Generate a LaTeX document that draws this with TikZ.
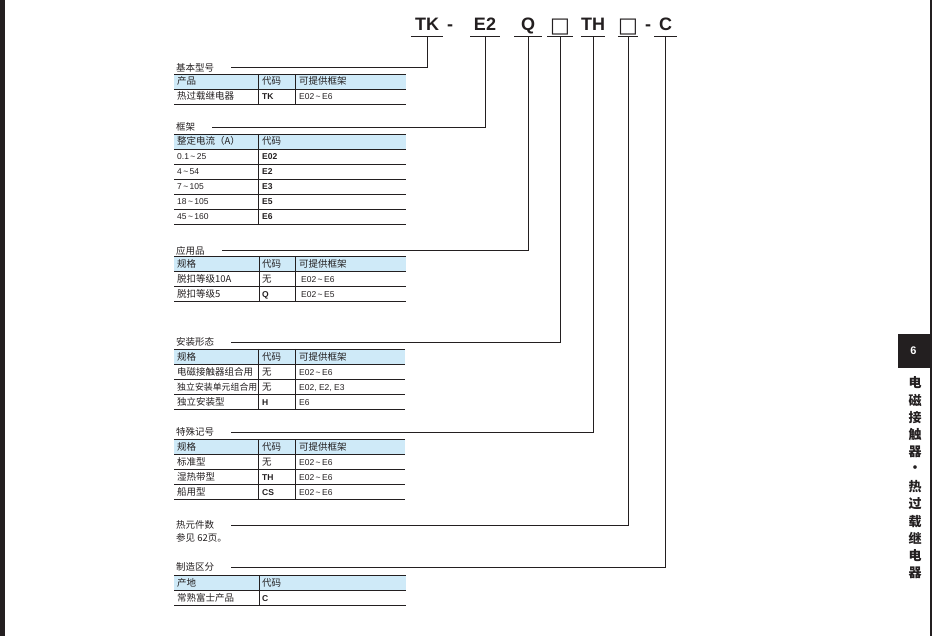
\documentclass[tikz,border=0pt]{standalone}
\usepackage{fontspec}
\setmainfont{Liberation Sans}
\newfontfamily\cjk{Noto Sans CJK SC}
\newfontfamily\symf{DejaVu Sans}
\usetikzlibrary{positioning}
\definecolor{hdrblue}{RGB}{207,234,248}
\definecolor{ink}{RGB}{35,31,32}
\newcommand{\rng}[2]{#1\,\textasciitilde\,#2}

\begin{document}
\begin{tikzpicture}[x=1pt,y=-1pt,
  rule/.style={draw=ink,line width=0.8pt},
  lead/.style={draw=ink,line width=0.9pt},
  part/.style={anchor=south,inner xsep=0pt,inner ysep=5.5pt,text height=13pt,text depth=0pt,font=\bfseries\fontsize{18}{20}\selectfont,text=ink},
  blank/.style={part,font=\symf\fontsize{21}{22}\selectfont},
  sec/.style={anchor=west,inner sep=0pt,font=\cjk\fontsize{9.5}{11}\selectfont,text=ink},
  zh/.style={anchor=base west,inner sep=0pt,font=\cjk\fontsize{9.5}{11}\selectfont,text=ink},
  lat/.style={anchor=base west,inner sep=0pt,font=\fontsize{8.5}{10}\selectfont,text=ink},
  latb/.style={lat,font=\bfseries\fontsize{8.5}{10}\selectfont},
  side/.style={font=\cjk\bfseries\fontsize{13}{14}\selectfont,text=ink}]
  \useasboundingbox (0,0) rectangle (932,636);
  \fill[ink] (0,0) rectangle (5,636);
  \fill[ink] (930,0) rectangle (932,636);

  % model code
  \node[part,minimum width=32pt]  (tk)  at (427,36.5) {TK};
  \node[part]                     (d1)  at (450,36.5) {-};
  \node[part,minimum width=29pt]  (e2)  at (485,36.5) {E2};
  \node[part,minimum width=27pt]  (q)   at (528,36.5) {Q};
  \node[blank,minimum width=25pt] (bx1) at (560,36.5) {\raisebox{-1.5pt}{□}};
  \node[part,minimum width=23pt]  (th)  at (593,36.5) {TH};
  \node[blank,minimum width=20pt] (bx2) at (628,36.5) {\raisebox{-1.5pt}{□}};
  \node[part]                     (d2)  at (648,36.5) {-};
  \node[part,minimum width=22pt]  (c)   at (665.5,36.5) {C};
  \foreach \p in {tk,e2,q,bx1,th,bx2,c}
    \draw[lead,line width=1.2pt] (\p.south west) -- (\p.south east);

  % section names
  \node[sec] (s1) at (176,67.5)  {基本型号};
  \node[sec] (s2) at (176,127.3) {框架};
  \node[sec] (s3) at (176,250.7) {应用品};
  \node[sec] (s4) at (176,342.3) {安装形态};
  \node[sec] (s5) at (176,432.3) {特殊记号};
  \node[sec] (s6) at (176,525)   {热元件数};
  \node[sec,below=13pt of s6.west,anchor=west] (s6n) {参见 62页。};
  \node[sec] (s7) at (176,567.3) {制造区分};
  \foreach \p/\s in {tk/s1,e2/s2,q/s3,bx1/s4,th/s5,bx2/s6,c/s7}
    \draw[lead] (\p.south) |- ([xshift=17pt]\s.east);

  % basic type
  \fill[hdrblue] (174,74) rectangle (406,89);
  \foreach \r in {74,89,104} \draw[rule] (174,\r) -- (406,\r);
  \draw[rule] (258,74) -- (258,104) (295,74) -- (295,104);
  \node[zh]   (a1) at (177,85)  {产品};
  \node[zh]   (a2) at (262,85)  {代码};
  \node[zh]   (a3) at (299,85)  {可提供框架};
  \node[zh]   (a4) at (177,100) {热过载继电器};
  \node[latb] (a5) at (262,100) {TK};
  \node[lat]  (a6) at (299,100) {\rng{E02}{E6}};

  % frame
  \fill[hdrblue] (174,134) rectangle (406,149);
  \foreach \r in {134,149,...,224} \draw[rule] (174,\r) -- (406,\r);
  \draw[rule] (258,134) -- (258,224);
  \node[zh] (b1) at (177,145) {整定电流（A）};
  \node[zh] (b2) at (262,145) {代码};
  \foreach \lo/\hi/\cd [count=\i] in {0.1/25/E02,4/54/E2,7/105/E3,18/105/E5,45/160/E6} {
    \node[lat]  (bl\i) at (177,145+15*\i) {\rng{\lo}{\hi}};
    \node[latb] (bc\i) at (262,145+15*\i) {\cd};
  }

  % application
  \fill[hdrblue] (174,256.7) rectangle (406,271.7);
  \foreach \r in {256.7,271.7,286.7,301.7} \draw[rule] (174,\r) -- (406,\r);
  \draw[rule] (259,256.7) -- (259,301.7) (295,256.7) -- (295,301.7);
  \node[zh]   (c1) at (177,267.7) {规格};
  \node[zh]   (c2) at (262,267.7) {代码};
  \node[zh]   (c3) at (299,267.7) {可提供框架};
  \node[zh]   (c4) at (177,282.7) {脱扣等级10A};
  \node[zh]   (c5) at (262,282.7) {无};
  \node[lat]  (c6) at (301,282.7) {\rng{E02}{E6}};
  \node[zh]   (c7) at (177,297.7) {脱扣等级5};
  \node[latb] (c8) at (262,297.7) {Q};
  \node[lat]  (c9) at (301,297.7) {\rng{E02}{E5}};

  % mounting
  \fill[hdrblue] (174,349) rectangle (405,364);
  \foreach \r in {349,364,...,409} \draw[rule] (174,\r) -- (405,\r);
  \draw[rule] (258.7,349) -- (258.7,409) (295,349) -- (295,409);
  \node[zh]   (d1h) at (177,360) {规格};
  \node[zh]   (d2h) at (262,360) {代码};
  \node[zh]   (d3h) at (299,360) {可提供框架};
  \node[zh]   (m1a) at (177,375) {电磁接触器组合用};
  \node[zh]   (m1b) at (262,375) {无};
  \node[lat]  (m1c) at (299,375) {\rng{E02}{E6}};
  \node[zh,font=\cjk\fontsize{8.9}{11}\selectfont] (m2a) at (177,390) {独立安装单元组合用};
  \node[zh]   (m2b) at (262,390) {无};
  \node[lat]  (m2c) at (299,390) {E02, E2, E3};
  \node[zh]   (m3a) at (177,405) {独立安装型};
  \node[latb] (m3b) at (262,405) {H};
  \node[lat]  (m3c) at (299,405) {E6};

  % special mark
  \fill[hdrblue] (174,439) rectangle (405,454);
  \foreach \r in {439,454,...,499} \draw[rule] (174,\r) -- (405,\r);
  \draw[rule] (258.7,439) -- (258.7,499) (295,439) -- (295,499);
  \node[zh] (e1h) at (177,450) {规格};
  \node[zh] (e2h) at (262,450) {代码};
  \node[zh] (e3h) at (299,450) {可提供框架};
  \node[zh]  (x1a) at (177,465) {标准型};
  \node[zh]  (x1b) at (262,465) {无};
  \node[lat] (x1c) at (299,465) {\rng{E02}{E6}};
  \foreach \nm/\cd [count=\i from 2] in {湿热带型/TH,船用型/CS} {
    \node[zh]   (x\i a) at (177,450+15*\i) {\nm};
    \node[latb] (x\i b) at (262,450+15*\i) {\cd};
    \node[lat]  (x\i c) at (299,450+15*\i) {\rng{E02}{E6}};
  }

  % production
  \fill[hdrblue] (174,575) rectangle (406,590);
  \foreach \r in {575,590,605} \draw[rule] (174,\r) -- (406,\r);
  \draw[rule] (259,575) -- (259,605);
  \node[zh]   (f1) at (177,586) {产地};
  \node[zh]   (f2) at (262,586) {代码};
  \node[zh]   (f3) at (177,601) {常熟富士产品};
  \node[latb] (f4) at (262,601) {C};

  % chapter tab
  \fill[ink] (898,334) rectangle (930,368);
  \node[text=white,font=\bfseries\fontsize{11}{12}\selectfont] (ch) at (913.5,351) {6};
  \foreach \ch [count=\i from 0] in {电,磁,接,触,器,·,热,过,载,继,电,器}
    \node[side] (v\i) at (915,383+17.3*\i) {\ch};
\end{tikzpicture}
\end{document}
